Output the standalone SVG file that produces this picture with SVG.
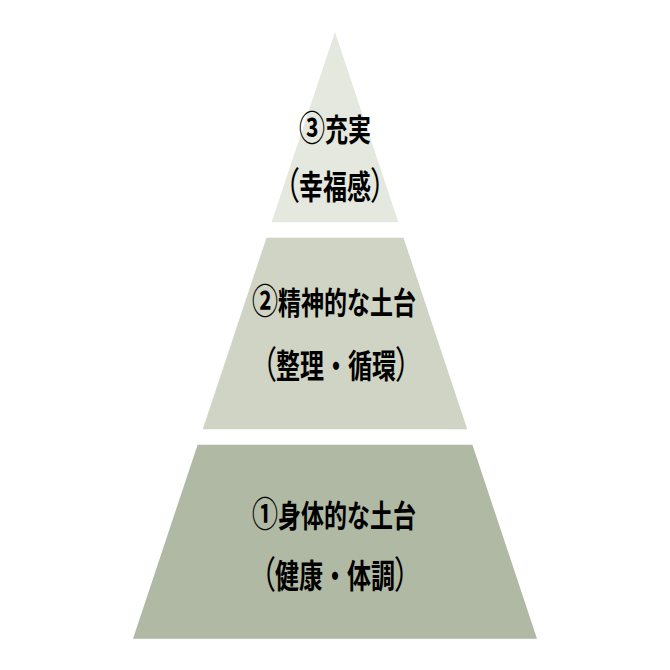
<svg xmlns="http://www.w3.org/2000/svg" width="670" height="670" viewBox="0 0 670 670">
  <style>
    .t { font-family: "Noto Sans CJK JP", "Noto Sans", sans-serif; font-weight: 700; fill: #000; text-anchor: middle; }
    .a { font-size: 23px; }
    .b { font-size: 24px; }
    .n { font-size: 26px; font-feature-settings: "palt"; }
    .p { font-size: 28px; font-feature-settings: "palt"; font-weight: 400; }
  </style>
  <rect x="0" y="0" width="670" height="670" fill="#ffffff"/>
  <g id="tier3">
    <polygon points="335,32 398.4,222.3 271.6,222.3" fill="#E5E8DE"/>
    <text class="t a" transform="translate(335 141) scale(1 1.35)"><tspan class="n">③</tspan>充実</text>
    <text class="t b" transform="translate(335 199.4) scale(1 1.35)"><tspan class="p">（</tspan>幸福感<tspan class="p">）</tspan></text>
  </g>
  <g id="tier2">
    <polygon points="266.5,237.7 403.5,237.7 467.3,429.3 202.7,429.3" fill="#D0D4C4"/>
    <text class="t a" transform="translate(334 313.8) scale(1 1.35)"><tspan class="n">②</tspan>精神的な土台</text>
    <text class="t b" transform="translate(336 377.7) scale(1 1.35)"><tspan class="p">（</tspan>整理・循環<tspan class="p">）</tspan></text>
  </g>
  <g id="tier1">
    <polygon points="197.6,444.7 472.4,444.7 537,638.7 133,638.7" fill="#B0B9A3"/>
    <text class="t a" transform="translate(334 527) scale(1 1.35)"><tspan class="n">①</tspan>身体的な土台</text>
    <text class="t b" transform="translate(335 587.5) scale(1 1.35)"><tspan class="p">（</tspan>健康・体調<tspan class="p">）</tspan></text>
  </g>
</svg>
